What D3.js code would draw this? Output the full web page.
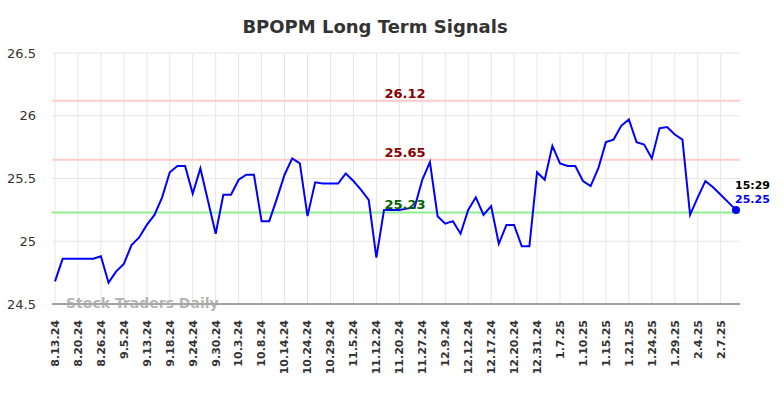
<!DOCTYPE html>
<html>
<head>
<meta charset="utf-8">
<script src="https://cdn.jsdelivr.net/npm/d3@7"></script>
<style>
  body { margin: 0; background: #fff; }
  text { font-family: "DejaVu Sans", sans-serif; }
</style>
</head>
<body>
<div id="chart"></div>
<script>
// tick labels, one every 3 trading days
const tickLabels = ["8.13.24", "8.20.24", "8.26.24", "9.5.24", "9.13.24", "9.18.24", "9.24.24", "9.30.24",
  "10.3.24", "10.8.24", "10.14.24", "10.24.24", "10.29.24", "11.5.24", "11.12.24", "11.20.24", "11.27.24",
  "12.9.24", "12.12.24", "12.17.24", "12.20.24", "12.31.24", "1.7.25", "1.10.25", "1.15.25", "1.21.25",
  "1.24.25", "1.29.25", "2.4.25", "2.7.25"]

// closing prices
const prices = [24.68, 24.86, 24.86, 24.86, 24.86, 24.86, 24.88, 24.67, 24.76, 24.82,
  24.97, 25.03, 25.13, 25.21, 25.35, 25.55, 25.60, 25.60, 25.38, 25.58,
  25.32, 25.06, 25.37, 25.37, 25.49, 25.53, 25.53, 25.16, 25.16, 25.34,
  25.53, 25.66, 25.62, 25.20, 25.47, 25.46, 25.46, 25.46, 25.54, 25.48,
  25.41, 25.33, 24.87, 25.25, 25.25, 25.25, 25.26, 25.27, 25.49, 25.63,
  25.20, 25.14, 25.16, 25.06, 25.25, 25.35, 25.21, 25.28, 24.98, 25.13,
  25.13, 24.96, 24.96, 25.55, 25.49, 25.76, 25.62, 25.60, 25.60, 25.48,
  25.44, 25.58, 25.79, 25.81, 25.92, 25.97, 25.79, 25.77, 25.66, 25.90,
  25.91, 25.85, 25.81, 25.21, 25.35, 25.48, 25.43, 25.37, 25.31, 25.25]

const yTicks = [24.5, 25, 25.5, 26, 26.5]
const resistance = [26.12, 25.65]
const support = [25.23]
const lastTime = "15:29"

const width = 784, height = 398
const margin = {top: 53, right: 44, bottom: 94, left: 52}

const svg = d3.select("#chart").append("svg")
  .attr("width", width)
  .attr("height", height)

const x = d3.scaleLinear()
  .domain([0, prices.length - 1])
  .range([55, 736])

const y = d3.scaleLinear()
  .domain([24.5, 26.5])
  .range([height - margin.bottom, margin.top])

// title
svg.append("text")
  .attr("x", 375)
  .attr("y", 33)
  .attr("text-anchor", "middle")
  .attr("font-size", 18)
  .attr("font-weight", "bold")
  .attr("fill", "#333")
  .text("BPOPM Long Term Signals")

// grid
const tickIdx = tickLabels.map((d, i) => i * 3)
svg.append("g")
  .selectAll("line")
  .data(tickIdx)
  .join("line")
  .attr("x1", d => x(d)).attr("x2", d => x(d))
  .attr("y1", margin.top).attr("y2", height - margin.bottom)
  .attr("stroke", "#e6e6e6")
  .attr("stroke-width", 1)

svg.append("g")
  .selectAll("line")
  .data(yTicks)
  .join("line")
  .attr("x1", margin.left).attr("x2", width - margin.right)
  .attr("y1", d => y(d)).attr("y2", d => y(d))
  .attr("stroke", "#e6e6e6")
  .attr("stroke-width", 1)

// y labels
svg.append("g")
  .selectAll("text")
  .data(yTicks)
  .join("text")
  .attr("x", 36)
  .attr("y", d => y(d))
  .attr("dy", "0.35em")
  .attr("text-anchor", "end")
  .attr("font-size", 13)
  .attr("fill", "#333")
  .text(d => d)

// x axis line
svg.append("line")
  .attr("x1", margin.left).attr("x2", width - margin.right)
  .attr("y1", y(24.5)).attr("y2", y(24.5))
  .attr("stroke", "#555")
  .attr("stroke-width", 1.2)

// x labels, rotated
svg.append("g")
  .selectAll("text")
  .data(tickLabels)
  .join("text")
  .attr("transform", (d, i) => "translate(" + x(i * 3) + "," + 320 + ") rotate(-90)")
  .attr("dy", "0.35em")
  .attr("text-anchor", "end")
  .attr("font-size", 11)
  .attr("font-weight", "bold")
  .attr("fill", "#333")
  .text(d => d)

// signal lines
const levels = resistance.map(v => ({v: v, line: "#ffcccc", txt: "#8b0000"}))
  .concat(support.map(v => ({v: v, line: "#90ee90", txt: "#006400"})))

svg.append("g")
  .selectAll("line")
  .data(levels)
  .join("line")
  .attr("x1", margin.left).attr("x2", width - margin.right)
  .attr("y1", d => y(d.v)).attr("y2", d => y(d.v))
  .attr("stroke", d => d.line)
  .attr("stroke-width", 2)

// watermark
svg.append("text")
  .attr("x", 66)
  .attr("y", 308)
  .attr("font-size", 14)
  .attr("font-weight", "bold")
  .attr("fill", "#aaa")
  .attr("opacity", 0.85)
  .text("Stock Traders Daily")

// price line
const line = d3.line()
  .x((d, i) => x(i))
  .y(d => y(d))

svg.append("path")
  .datum(prices)
  .attr("d", line)
  .attr("fill", "none")
  .attr("stroke", "#0000ff")
  .attr("stroke-width", 2)

svg.append("g")
  .selectAll("text")
  .data(levels)
  .join("text")
  .attr("x", 405)
  .attr("y", d => y(d.v) - 3)
  .attr("text-anchor", "middle")
  .attr("font-size", 13)
  .attr("font-weight", "bold")
  .attr("fill", d => d.txt)
  .text(d => d.v.toFixed(2))

// last point
const last = prices.length - 1
svg.append("circle")
  .attr("cx", x(last))
  .attr("cy", y(prices[last]))
  .attr("r", 4)
  .attr("fill", "#0000ff")

svg.append("text")
  .attr("x", 735)
  .attr("y", 189)
  .attr("font-size", 11)
  .attr("font-weight", "bold")
  .attr("fill", "#000")
  .text(lastTime)

svg.append("text")
  .attr("x", 735)
  .attr("y", 203)
  .attr("font-size", 11)
  .attr("font-weight", "bold")
  .attr("fill", "#0000ff")
  .text(prices[last].toFixed(2))
</script>
</body>
</html>
